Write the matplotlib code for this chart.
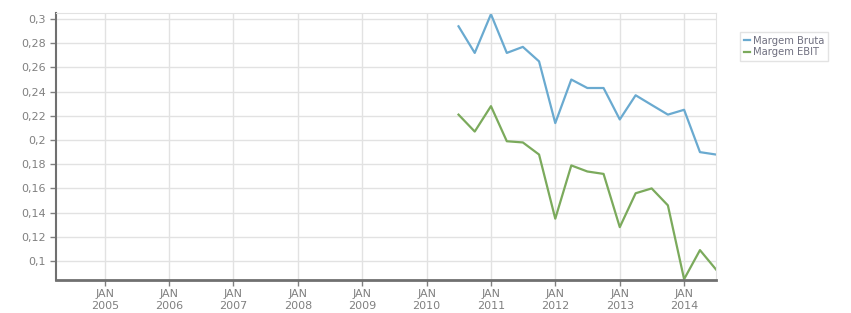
import numpy as np
import pandas as pd
import matplotlib
matplotlib.use("Agg")
import matplotlib.pyplot as plt
from matplotlib.ticker import FuncFormatter

# quarterly data, Jul 2010 .. Jul 2014
datas = pd.date_range("2010-07-01", "2014-07-01", freq="QS")
margem_bruta = [0.294, 0.272, 0.304, 0.272, 0.277, 0.265, 0.214, 0.250, 0.243,
                0.243, 0.217, 0.237, 0.229, 0.221, 0.225, 0.190, 0.188]
margem_ebit = [0.221, 0.207, 0.228, 0.199, 0.198, 0.188, 0.135, 0.179, 0.174,
               0.172, 0.128, 0.156, 0.160, 0.146, 0.085, 0.109, 0.093]
anos = list(range(2005, 2015))

cinza = "#808080"
fig = plt.figure(figsize=(8.51, 3.13), dpi=100)
ax = fig.add_axes([56/851, 1-280/313, 660/851, 267/313])

ax.plot(datas, margem_bruta, color="#6aaad0", lw=1.6, label="Margem Bruta")
ax.plot(datas, margem_ebit, color="#7baa5c", lw=1.6, label="Margem EBIT")

ax.set_xlim(pd.Timestamp("2004-03-30"), pd.Timestamp("2014-07-01"))
ax.set_ylim(0.0843, 0.305)
ax.set_yticks(np.arange(0.1, 0.301, 0.02))
ax.yaxis.set_major_formatter(FuncFormatter(lambda v, p: ("%g" % round(v, 2)).replace(".", ",")))
ax.set_xticks([pd.Timestamp("%d-01-01" % a) for a in anos])
ax.set_xticklabels(["JAN\n%d" % a for a in anos])

ax.grid(True, color="#e2e2e2", lw=1)
ax.set_axisbelow(True)
for s in ["top", "right"]:
    ax.spines[s].set_color("#e2e2e2")
for s in ["left", "bottom"]:
    ax.spines[s].set_color("#707070")
    ax.spines[s].set_linewidth(2)
ax.spines["left"].set_linewidth(1.5)
ax.tick_params(axis="both", colors=cinza, labelsize=8, length=4, width=1)
ax.tick_params(axis="x", pad=2.5)
for t in ax.get_xticklabels():
    t.set_linespacing(1.25)

leg = ax.legend(loc="upper left", bbox_to_anchor=(738/660 - 56/660 + 0.003, 0.93),
                fontsize=7.2, frameon=True, fancybox=False, handlelength=0.6,
                handletextpad=0.3, borderpad=0.4, labelspacing=0.15, borderaxespad=0)
leg.get_frame().set_edgecolor("#dddddd")
leg.get_frame().set_linewidth(1)
for t in leg.get_texts():
    t.set_color("#707080")

fig.savefig("out.png", dpi=100)
